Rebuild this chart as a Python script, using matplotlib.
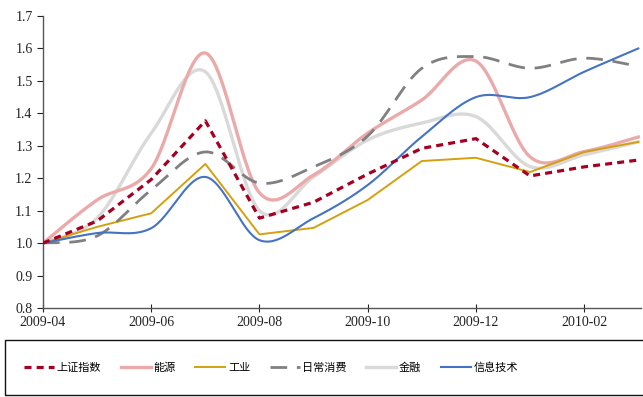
import matplotlib
matplotlib.use("Agg")
import matplotlib.pyplot as plt
import numpy as np
from matplotlib.patches import Rectangle
from matplotlib.lines import Line2D

months = ["2009-04", "2009-05", "2009-06", "2009-07", "2009-08", "2009-09",
          "2009-10", "2009-11", "2009-12", "2010-01", "2010-02", "2010-03"]

sh_index = [1.0, 1.068, 1.196, 1.377, 1.077, 1.126, 1.213, 1.292, 1.322, 1.207, 1.235, 1.256]
energy = [1.0, 1.133, 1.23, 1.586, 1.155, 1.21, 1.339, 1.441, 1.561, 1.266, 1.282, 1.327]
industry = [1.0, 1.05, 1.092, 1.244, 1.027, 1.047, 1.133, 1.253, 1.263, 1.219, 1.281, 1.312]
consumer = [1.0, 1.022, 1.164, 1.281, 1.185, 1.235, 1.33, 1.539, 1.575, 1.539, 1.57, 1.545]
finance = [1.0, 1.077, 1.339, 1.528, 1.1, 1.204, 1.318, 1.37, 1.39, 1.236, 1.272, 1.312]
info_tech = [1.0, 1.031, 1.046, 1.204, 1.009, 1.077, 1.179, 1.328, 1.45, 1.45, 1.528, 1.6]

tick_idx = [0, 2, 4, 6, 8, 10]


def smooth(y, n=30):
    # Catmull-Rom style smoothing, like a spreadsheet "smoothed line"
    y = np.asarray(y, dtype=float)
    x = np.arange(len(y), dtype=float)
    xp = np.concatenate([[x[0]], x, [x[-1]]])
    yp = np.concatenate([[y[0]], y, [y[-1]]])
    xs, ys = [], []
    for i in range(len(y) - 1):
        p0, p1, p2, p3 = yp[i], yp[i + 1], yp[i + 2], yp[i + 3]
        q0, q1, q2, q3 = xp[i], xp[i + 1], xp[i + 2], xp[i + 3]
        t = np.linspace(0, 1, n, endpoint=(i == len(y) - 2))
        c1y, c2y = p1 + (p2 - p0) / 6, p2 - (p3 - p1) / 6
        c1x, c2x = q1 + (q2 - q0) / 6, q2 - (q3 - q1) / 6
        b = [(1 - t) ** 3, 3 * (1 - t) ** 2 * t, 3 * (1 - t) * t ** 2, t ** 3]
        xs.append(b[0] * q1 + b[1] * c1x + b[2] * c2x + b[3] * q2)
        ys.append(b[0] * p1 + b[1] * c1y + b[2] * c2y + b[3] * p2)
    return np.concatenate(xs), np.concatenate(ys)


plt.rcParams["font.family"] = ["Liberation Serif", "Noto Sans CJK SC", "DejaVu Sans"]

fig = plt.figure(figsize=(6.43, 3.97), dpi=100)
ax = fig.add_axes([43 / 643, 1 - 308 / 397, 598 / 643, 292 / 397])

x = np.arange(len(months))
ax.plot(*smooth(finance), color="#D9D9D9", lw=2.4, label="金融", zorder=2)
ax.plot(*smooth(energy), color="#EBAAAA", lw=2.4, label="能源", zorder=2)
ax.plot(x, industry, color="#D4A010", lw=1.4, label="工业", zorder=3)
ax.plot(*smooth(consumer), color="#808080", lw=2.0, dashes=(6, 3.5), label="日常消费", zorder=3)
ax.plot(*smooth(info_tech), color="#4472C4", lw=1.5, label="信息技术", zorder=4)
ax.plot(x, sh_index, color="#A50021", lw=2.3, dashes=(2.2, 1.6), label="上证指数", zorder=5)

ax.set_xlim(0, 11.05)
ax.set_ylim(0.8, 1.7)
ax.set_yticks(np.arange(0.8, 1.71, 0.1))
ax.set_yticklabels([f"{v:.1f}" for v in np.arange(0.8, 1.71, 0.1)])
ax.set_xticks(tick_idx)
ax.set_xticklabels([months[i] for i in tick_idx])
ax.tick_params(labelsize=10, colors="#222222", length=4, width=0.8, direction="out")
ax.tick_params(axis="x", direction="inout", length=6, pad=3)
for s in ["top", "right"]:
    ax.spines[s].set_visible(False)
for s in ["left", "bottom"]:
    ax.spines[s].set_color("#555555")
    ax.spines[s].set_linewidth(1.0)

# legend box
fig.patches.append(Rectangle((5 / 643, 2 / 397), 640 / 643, 55 / 397, transform=fig.transFigure,
                             fill=False, edgecolor="#111111", lw=1.0))
handles = [
    Line2D([], [], color="#A50021", lw=2.3, dashes=(2.2, 1.6)),
    Line2D([], [], color="#EBAAAA", lw=2.4),
    Line2D([], [], color="#D4A010", lw=1.4),
    Line2D([], [], color="#808080", lw=2.0, dashes=(6, 3.5)),
    Line2D([], [], color="#D9D9D9", lw=2.4),
    Line2D([], [], color="#4472C4", lw=1.5),
]
labels = ["上证指数", "能源", "工业", "日常消费", "金融", "信息技术"]
fig.legend(handles, labels, loc="center left", bbox_to_anchor=(14 / 643, 1 - 368 / 397),
           ncol=6, frameon=False, prop={"family": ["Noto Sans CJK SC"], "size": 8},
           handlelength=2.7, handletextpad=0.25, columnspacing=1.75)

fig.savefig("out.png", dpi=100)
